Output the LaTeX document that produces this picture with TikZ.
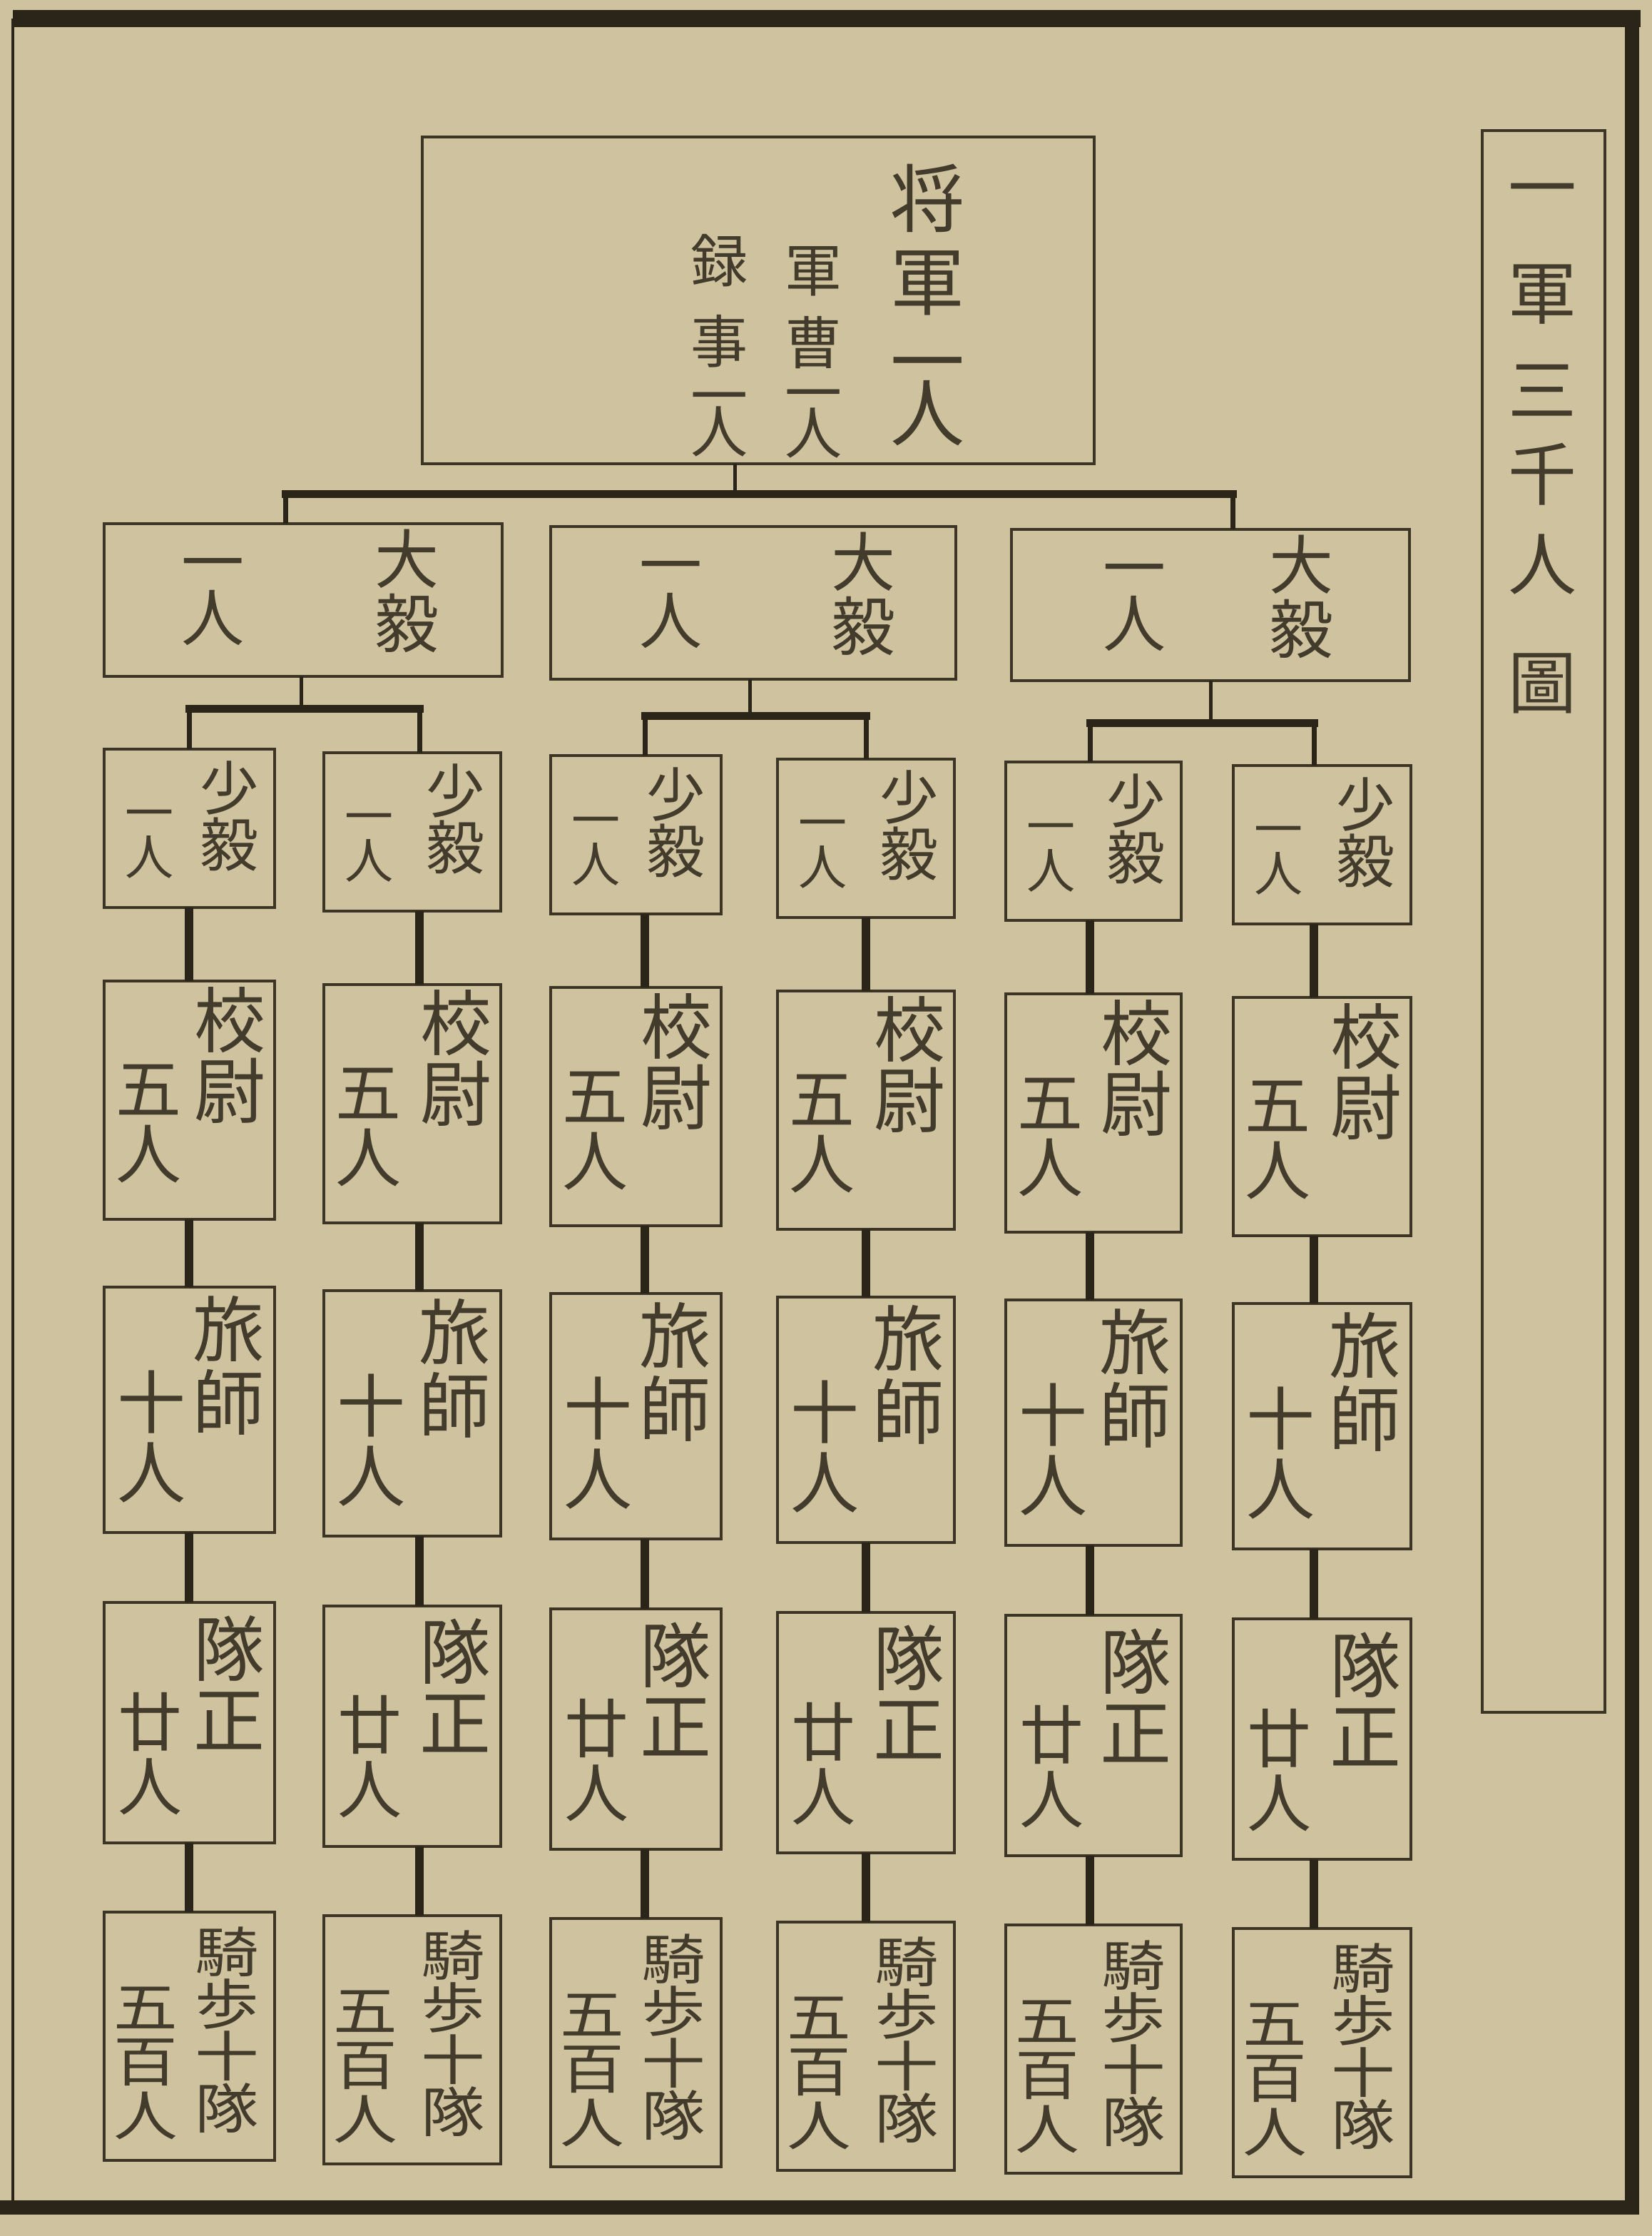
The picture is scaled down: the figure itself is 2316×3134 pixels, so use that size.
\documentclass[tikz,border=0pt]{standalone}
\usepackage{fontspec}
\newfontfamily\cjk{Noto Sans CJK JP}
\definecolor{paper}{HTML}{CFC39F}
\definecolor{ink}{HTML}{3C3526}
\definecolor{ink2}{HTML}{2B2519}
\definecolor{txt}{HTML}{433B2B}
\newcommand\zs{\rule[-0.12em]{0pt}{1em}}
\tikzset{
  box/.style={rectangle, draw=ink, line width=2pt, inner sep=0pt, outer sep=0pt},
  vt/.style 2 args={font={\cjk\fontsize{#1}{#2}\selectfont\lineskiplimit=-300pt\lineskip=0pt}, align=center, inner sep=0pt, outer sep=0pt, text=txt},
  wide/.style={xscale=1.18, transform shape},
  vconn/.style={draw=ink2, line width=6pt},
  hbar/.style={draw=ink2, line width=5.5pt, line cap=rect},
  dropline/.style={draw=ink2, line width=3.5pt},
  stemline/.style={draw=ink2, line width=2.5pt},
}
\newcommand\mybox[5]{\node[box, minimum width={((#4)-(#2))*0.5pt}, minimum height={((#5)-(#3))*0.5pt}] (#1) at ({((#2)+(#4))/2},{((#3)+(#5))/2}) {};}
\begin{document}
\begin{tikzpicture}[x=0.5pt, y=-0.5pt]
\useasboundingbox (0,0) rectangle (2316,3134);
\fill[paper] (0,0) rectangle (2316,3134);
% page frame
\draw[ink2, line width=12pt] (18,26) -- (2300,26);
\draw[ink2, line width=2pt] (18,26) -- (18,3094);
\draw[ink2, line width=10pt] (2288,14) -- (2288,3104);
\draw[ink2, line width=10pt] (0,3094) -- (2298,3094);
% title
\mybox{tbox}{2078}{183}{2250}{2400}
\node[vt={48}{65}] (title) at (2162,609) {\zs 一\\[9pt]軍\\[3pt]三\\[-6pt]千\\[-2pt]人\\[18pt]圖\zs};
% top box
\mybox{top}{592}{192}{1534}{650}
\node[vt={52}{50}] (tc1) at (1300,428) {\zs 将\\[8pt]軍\\[6pt]一\\[-14pt]人\zs};
\node[vt={40}{40}] (tc2) at (1140,492) {\zs 軍\\[11pt]曹\\[-5pt]一\\[-12pt]人\zs};
\node[vt={40}{40}] (tc3) at (1008,484.5) {\zs 録\\[16.5pt]事\\[-2pt]一\\[-15pt]人\zs};
% level 2
\mybox{A}{146}{734}{704}{948}
\mybox{B}{772}{738}{1340}{952}
\mybox{C}{1418}{742}{1976}{954}
\node[vt={45}{45}] (Ar) at (570,828) {\zs 大\\毅\zs};
\node[vt={44}{39}] (Al) at (298,826) {\zs 一\\人\zs};
\node[vt={45}{45}] (Br) at (1210,832) {\zs 大\\毅\zs};
\node[vt={44}{39}] (Bl) at (940,830) {\zs 一\\人\zs};
\node[vt={45}{45}] (Cr) at (1824,836) {\zs 大\\毅\zs};
\node[vt={44}{39}] (Cl) at (1590,834) {\zs 一\\人\zs};
% columns
\foreach \i/\xl/\xr/\xc/\sh in {1/146/385/265/0, 2/454/702/588/4.6, 3/772/1011/904/9.2, 4/1090/1338/1214/13.8, 5/1410/1656/1528/18.4, 6/1729/1978/1842/23}{
  \coordinate (x-\i) at (\xc,0);
  \mybox{b3-\i}{\xl}{1050+\sh}{\xr}{1272+\sh}
  \mybox{b4-\i}{\xl}{1375+\sh}{\xr}{1709+\sh}
  \mybox{b5-\i}{\xl}{1804+\sh}{\xr}{2148+\sh}
  \mybox{b6-\i}{\xl}{2246+\sh}{\xr}{2583+\sh}
  \mybox{b7-\i}{\xl}{2680+\sh}{\xr}{3028+\sh}
  \node[vt={41}{39.5}] (t3r-\i) at (\xr-64,1143.5+\sh) {\zs 少\\毅\zs};
  \node[vt={34}{31}] (t3l-\i) at (\xl+63,1170+\sh) {\zs 一\\人\zs};
  \node[vt={50}{49.5}] (t4r-\i) at (\xr-63,1478.5+\sh) {\zs 校\\尉\zs};
  \node[vt={46}{45.5}] (t4l-\i) at (\xl+62,1571.5+\sh) {\zs 五\\人\zs};
  \node[vt={50}{51.5}] (t5r-\i) at (\xr-65,1913.5+\sh) {\zs 旅\\師\zs};
  \node[vt={48}{49}] (t5l-\i) at (\xl+66,2014+\sh) {\zs 十\\人\zs};
  \node[vt={50}{50}] (t6r-\i) at (\xr-64,2360+\sh) {\zs 隊\\正\zs};
  \node[vt={45}{45}] (t6l-\i) at (\xl+64,2458+\sh) {\zs 廿\\人\zs};
  \node[vt={38}{36.5}, wide] (t7r-\i) at (\xr-67,2845.5+\sh) {\zs 騎\\歩\\十\\隊\zs};
  \node[vt={38}{38}, wide] (t7l-\i) at (\xl+58,2889+\sh) {\zs 五\\百\\人\zs};
  \draw[vconn] (b3-\i.south -| x-\i) -- (b4-\i.north -| x-\i);
  \draw[vconn] (b4-\i.south -| x-\i) -- (b5-\i.north -| x-\i);
  \draw[vconn] (b5-\i.south -| x-\i) -- (b6-\i.north -| x-\i);
  \draw[vconn] (b6-\i.south -| x-\i) -- (b7-\i.north -| x-\i);
}
% top -> level 2
\coordinate (j0) at (1030,692);
\coordinate (dA) at (400,0);
\coordinate (dC) at (1728,0);
\draw[stemline] (top.south -| j0) -- (j0);
\draw[hbar] (dA |- j0) -- (dC |- j0);
\draw[dropline] (dA |- j0) -- (A.north -| dA);
\draw[dropline] (dC |- j0) -- (C.north -| dC);
% level 2 -> level 3
\coordinate (jA) at (422,993);
\coordinate (jB) at (1051,1003);
\coordinate (jC) at (1697,1013);
\draw[stemline] (A.south -| jA) -- (jA);
\draw[stemline] (B.south -| jB) -- (jB);
\draw[stemline] (C.south -| jC) -- (jC);
\draw[hbar] (x-1 |- jA) -- (x-2 |- jA);
\draw[hbar] (x-3 |- jB) -- (x-4 |- jB);
\draw[hbar] (x-5 |- jC) -- (x-6 |- jC);
\draw[dropline] (x-1 |- jA) -- (b3-1.north -| x-1);
\draw[dropline] (x-2 |- jA) -- (b3-2.north -| x-2);
\draw[dropline] (x-3 |- jB) -- (b3-3.north -| x-3);
\draw[dropline] (x-4 |- jB) -- (b3-4.north -| x-4);
\draw[dropline] (x-5 |- jC) -- (b3-5.north -| x-5);
\draw[dropline] (x-6 |- jC) -- (b3-6.north -| x-6);
\end{tikzpicture}
\end{document}
